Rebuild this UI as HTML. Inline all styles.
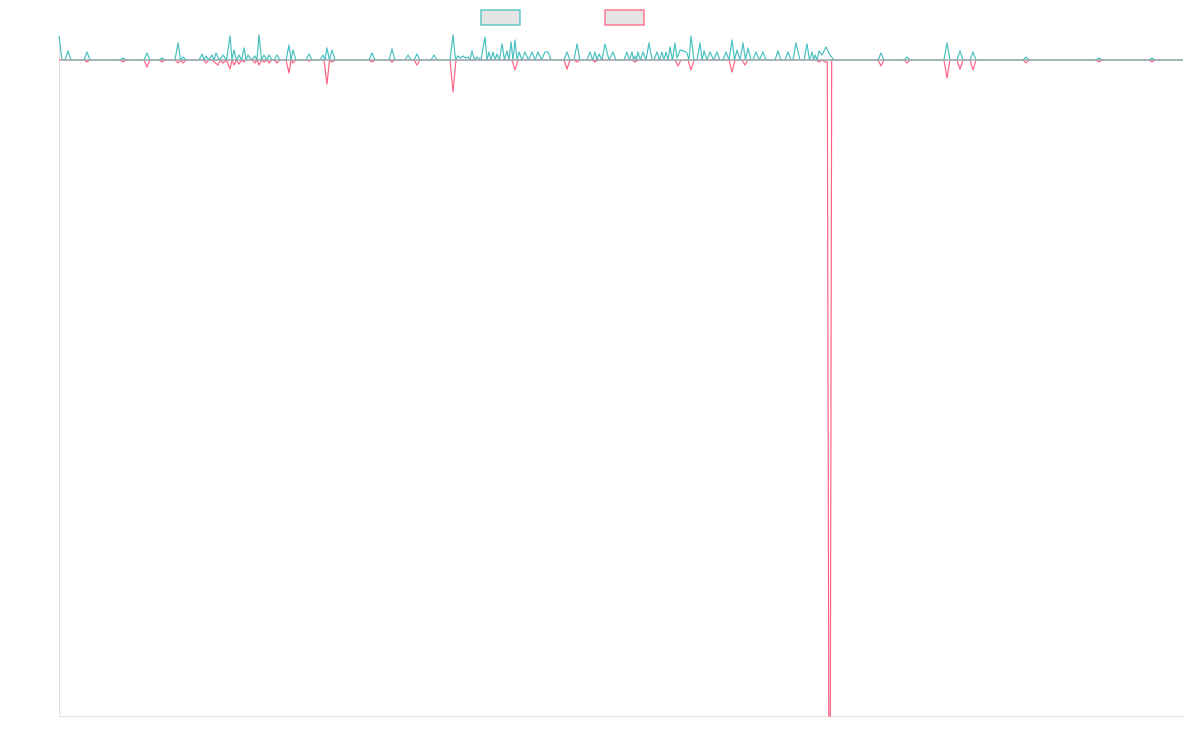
<!DOCTYPE html>
<html>
<head>
<meta charset="utf-8">
<style>
html,body{margin:0;padding:0;background:#fff;}
svg{display:block;}
</style>
</head>
<body>
<svg width="1200" height="750" viewBox="0 0 1200 750" xmlns="http://www.w3.org/2000/svg">
  <rect x="0" y="0" width="1200" height="750" fill="#ffffff"/>
  <!-- legend -->
  <rect x="481" y="10" width="39" height="15" fill="#e5e5e5" stroke="#4bc0c0" stroke-width="1.3"/>
  <rect x="605" y="10" width="39" height="15" fill="#e5e5e5" stroke="#ff6384" stroke-width="1.3"/>
  <!-- axes -->
  <line x1="59.5" y1="36" x2="59.5" y2="716.5" stroke="#e3e3e3" stroke-width="1"/>
  <line x1="59" y1="716.5" x2="1184" y2="716.5" stroke="#e3e3e3" stroke-width="1"/>
  <!-- pink series -->
  <polyline fill="none" stroke="#ff6384" stroke-width="1.2" stroke-linejoin="round" points="59,60 84,60 87,62 90,60 120,60 123,62 126,60 144,60 147,67 150,60 159,60 162,62 165,60 175,60 178,63 180.5,60 183,63 186,60 203,60 206,63 209,60 212,60 218,65 220.5,60 223,63 226.5,60 230,69 232,60 234,65 236.5,60 239,64 241.5,60 244,62 246,60 252,60 255,63 257,60 259,65 261.5,60 264,62 266.5,60 269,63 272,60 274,60 277,63 280,60 286,60 289,73 291,60 293,63 296,60 306,60 309,61 312,60 324,60 327,84 329.5,60 332,62 335,60 369,60 372,62 375,60 389,60 392,62 395,60 414,60 417,65 420,60 450,60 453,92 456,60 512,60 515,70 518,60 564,60 567,69 570,60 574,60 577,62 580,60 592,60 595,62 598,60 632,60 635,62 638,60 675,60 678,66 681,60 688,60 691,70 694,60 729,60 732,72 735,60 742,60 745,65 748,60 816,60 819,62 822,60 825,62 827.3,62 828.8,716 830.3,716 831.7,60 878,60 881,66 884,60 904,60 907,63 910,60 944,60 947,78 950,60 957,60 960,69 963,60 970,60 973,70 976,60 1023,60 1026,63 1029,60 1096,60 1099,62 1102,60 1149,60 1152,62 1155,60 1183,60"/>
  <!-- teal series -->
  <polyline fill="none" stroke="#4bc0c0" stroke-width="1.2" stroke-linejoin="round" points="59,36 62,60 65,60 68,51 71,60 84,60 87,52 90,60 120,60 123,58 126,60 144,60 147,53 150,60 159,60 162,58 165,60 175,60 178,43 180.5,60 183,57 186,60 199,60 202,54 204,60 206,56 209,60 212,55 214,60 216,53 219.5,60 223,55 226.5,60 230,36 232,60 234,50 236.5,60 239,55 241.5,60 244,48 246,60 248,55 251.5,60 255,56 257,60 259,35 261.5,60 264,55 266.5,60 269,55 272,60 274,60 277,55 280,60 286,60 289,45 291,60 293,50 296,60 306,60 309,54 312,60 320,60 323,55 325,60 327,48 329.5,60 332,50 335,60 369,60 372,53 375,60 389,60 392,49 395,60 405,60 408,55 411,60 414,60 417,54 420,60 431,60 434,55 437,60 450,60 453,35 455.5,60 458,56 460.5,58 463,56 465.5,58 468,57 470,60 472,51 474.5,60 477,57 481,60 485,37 487,60 489,52 491,60 493,52 495,60 497,54 499.5,60 502,44 504.5,60 507,51 509,60 511,42 513,60 515,40 517,60 519,52 522,60 525,52 528.5,60 532,52 535,60 538,52 541.5,60 545,52 548,52 551,60 564,60 567,52 570,60 574,60 577,44 580,60 587,60 590,52 592.5,60 595,52 597,60 599,54 602,60 605,44 609,60 613,52 616,60 624,60 627,52 629.5,60 632,52 633.5,60 635,56 636.5,60 638,52 640.5,60 643,52 646,60 649,43 652,60 654,60 657,52 659.5,60 662,52 664,60 666,52 668,60 670,47 672.5,60 675,43 677,58 680,50 684,51 687,53 689,60 691,36 694,60 697,60 700,43 702,60 704,51 707,60 710,52 713.5,60 717,52 720,60 723,60 726,52 729,60 732,40 734.5,60 737,50 740,60 743,43 745.5,60 748,48 751,60 753,60 756,52 759.5,60 763,52 766,60 775,60 778,51 781,60 785,60 788,52 791,60 793,60 796,43 800,60 804,60 807,44 809.5,60 812,52 813.5,60 815,55 817,60 819,51 822,55 826,47 830,55 834,60 878,60 881,53 884,60 904,60 907,57 910,60 944,60 947,43 950,60 957,60 960,51 963,60 970,60 973,52 976,60 1023,60 1026,57 1029,60 1096,60 1099,58 1102,60 1149,60 1152,58 1155,60 1183,60"/>
  <!-- overlapped baseline -->
  <line x1="62" y1="60" x2="1183" y2="60" stroke="#97a9ad" stroke-width="1.6"/>
</svg>
</body>
</html>
